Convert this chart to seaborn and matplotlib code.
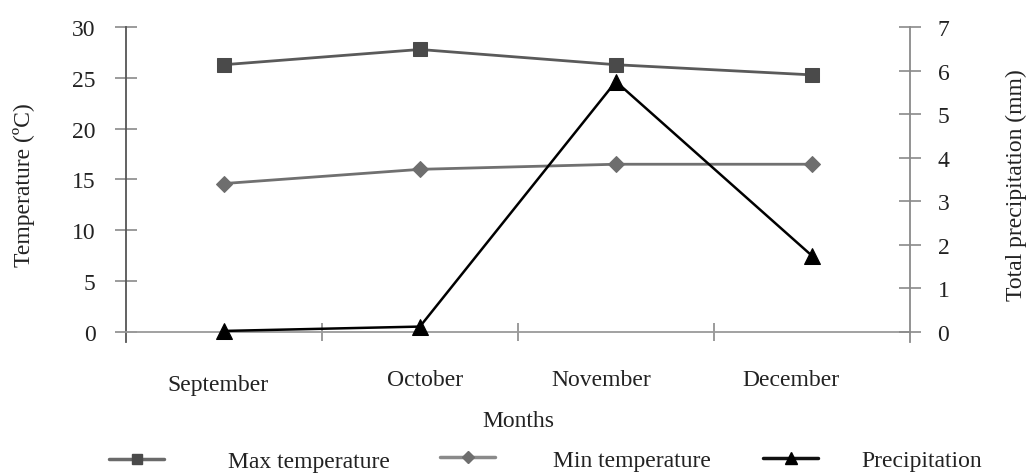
import matplotlib
matplotlib.use("Agg")
import matplotlib.pyplot as plt
import matplotlib.transforms as mtransforms
import seaborn as sns
import pandas as pd
from matplotlib.lines import Line2D

# Monthly climate data
months = ["September", "October", "November", "December"]
max_temp = [26.3, 27.8, 26.3, 25.3]      # °C
min_temp = [14.6, 16.0, 16.5, 16.5]      # °C
precip = [0.02, 0.12, 5.75, 1.75]        # mm
temp_ticks = [0, 5, 10, 15, 20, 25, 30]
precip_ticks = [0, 1, 2, 3, 4, 5, 6, 7]
series_names = ["Max temperature", "Min temperature", "Precipitation"]

sns.set_style("white")
plt.rcParams["font.family"] = ["Liberation Serif", "DejaVu Serif"]
FS = 17
TXT = "#222222"
DPI = 100

df = pd.DataFrame({"Month": months, "Max": max_temp, "Min": min_temp, "Precip": precip})

fig = plt.figure(figsize=(10.28, 4.77), dpi=DPI)
ax = fig.add_axes([0.1226, 0.281, 0.7624, 0.66])
ax2 = ax.twinx()

c_max, c_min, c_pr = "#4a4a4a", "#6e6e6e", "#000000"
sns.lineplot(data=df, x="Month", y="Max", ax=ax, sort=False, color="#5a5a5a", lw=2,
             marker="s", markersize=10.5, markerfacecolor=c_max, markeredgecolor=c_max)
sns.lineplot(data=df, x="Month", y="Min", ax=ax, sort=False, color="#707070", lw=2,
             marker="D", markersize=8.5, markerfacecolor=c_min, markeredgecolor=c_min)
sns.lineplot(data=df, x="Month", y="Precip", ax=ax2, sort=False, color=c_pr, lw=1.8,
             marker="^", markersize=12, markerfacecolor=c_pr, markeredgecolor=c_pr)

# Axis ranges (zero aligned on both y axes, spines extend slightly below zero)
ax.set_xlim(-0.5, 3.5)
ax.set_ylim(-1, 30)
ax2.set_ylim(-7 / 30, 7)

# Spines
for s in ["top", "right"]:
    ax.spines[s].set_visible(False)
for s in ["top", "left", "bottom"]:
    ax2.spines[s].set_visible(False)
ax.spines["left"].set_color("#555555")
ax.spines["left"].set_linewidth(1.3)
ax2.spines["right"].set_color("#8a8a8a")
ax2.spines["right"].set_linewidth(1.3)
ax.spines["bottom"].set_position(("data", 0))
ax.spines["bottom"].set_color("#9a9a9a")
ax.spines["bottom"].set_linewidth(1.3)

# Y ticks
ax.set_yticks(temp_ticks)
ax.tick_params(axis="y", direction="inout", length=16, width=1.2, color="#8a8a8a",
               pad=14, labelsize=FS, labelcolor=TXT, left=True)
ax2.set_yticks(precip_ticks)
ax2.tick_params(axis="y", direction="inout", length=16, width=1.2, color="#8a8a8a",
                pad=12, labelsize=FS, labelcolor=TXT, right=True)

# X ticks: labels at category centres, tick marks at category boundaries
ax.set_xticks(range(len(months)))
ax.set_xticklabels(months)
ax.set_xticks([0.5, 1.5, 2.5], minor=True)
ax.tick_params(axis="x", which="major", length=0, pad=27, labelsize=FS, labelcolor=TXT)
ax.tick_params(axis="x", which="minor", direction="inout", length=13, width=1.2,
               color="#8a8a8a", bottom=True)

# Small per-label nudges of the month names (pixels: right, down)
label_nudge = [(-6, 5), (5, 0), (-15, 0), (-21, 0)]
for lab, (dx, dy) in zip(ax.get_xticklabels(), label_nudge):
    offset = mtransforms.ScaledTranslation(dx / DPI, -dy / DPI, fig.dpi_scale_trans)
    lab.set_transform(lab.get_transform() + offset)

ax.set_xlabel("Months", fontsize=FS, color=TXT)
ax.set_ylabel("Temperature (ºC)", fontsize=FS, color=TXT)
ax2.set_ylabel("Total precipitation (mm)", fontsize=FS, color=TXT)
ax.xaxis.set_label_coords(0.5, -0.215)
ax.yaxis.set_label_coords(-0.1160, 0.5)
ax2.yaxis.set_label_coords(1.1224, 0.5)

# Legend entries along the bottom, one per series
handles = [
    Line2D([], [], color="#6a6a6a", lw=2.5, marker="s", markersize=7,
           markerfacecolor=c_max, markeredgecolor=c_max),
    Line2D([], [], color="#8a8a8a", lw=2.5, marker="D", markersize=6,
           markerfacecolor=c_min, markeredgecolor=c_min),
    Line2D([], [], color="#111111", lw=2.5, marker="^", markersize=8,
           markerfacecolor=c_pr, markeredgecolor=c_pr),
]
legend_x = [109, 440, 763]
text_gap = [2.7, 2.45, 1.85]
legend_y = [0.030, 0.034, 0.032]
for h, name, x, gap, y in zip(handles, series_names, legend_x, text_gap, legend_y):
    leg = fig.legend([h], [name], loc="center left", bbox_to_anchor=(x / 1028, y),
                     frameon=False, fontsize=FS, handlelength=2.33, handletextpad=gap,
                     borderpad=0, borderaxespad=0)
    for t in leg.get_texts():
        t.set_color(TXT)

fig.savefig("out.png", dpi=DPI)
